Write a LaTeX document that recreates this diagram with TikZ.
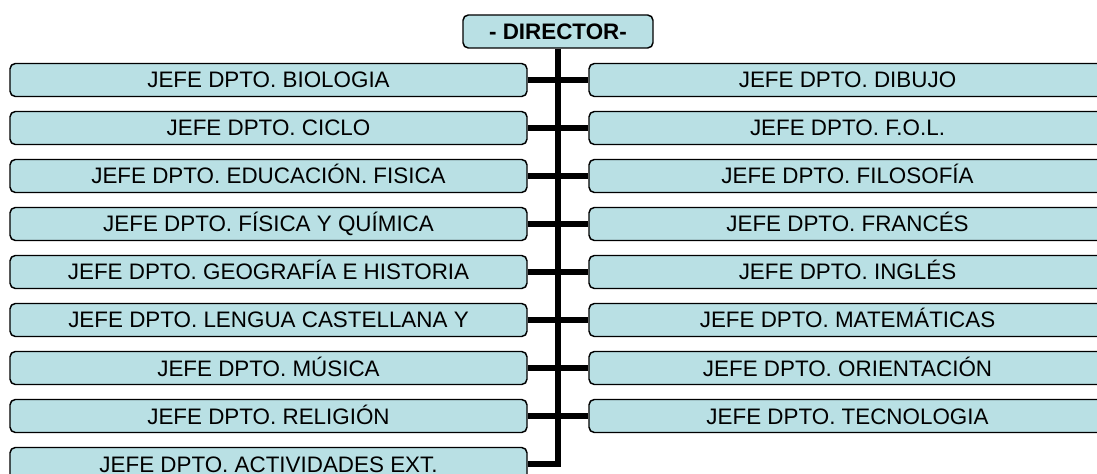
\documentclass[tikz,border=0pt]{standalone}
\usepackage{fontspec}
\setmainfont{Liberation Sans}
\definecolor{cajafondo}{RGB}{185,224,228}
\tikzset{
  cargo/.style={draw=black, line width=1.1pt, fill=cajafondo, rounded corners=4pt,
    minimum width=387.75pt, minimum height=24.75pt, inner sep=0pt,
    text height=12pt, text depth=0pt,
    font=\fontsize{16.8}{20}\selectfont},
  jefe/.style={cargo, minimum width=142.5pt, font=\fontsize{16.8}{20}\selectfont\bfseries},
  enlace/.style={draw=black, line width=4.3pt}
}
\begin{document}
\begin{tikzpicture}[x=0.75pt,y=-0.75pt]
                \useasboundingbox (0,0) rectangle (1097,474);
                \clip (0,0) rectangle (1097,474);

                % director
                \node[jefe] (director) at (558,31.5) {- DIRECTOR-};

                % columna izquierda
                \node[cargo] (izq1) at (268.5,80) {JEFE DPTO. BIOLOGIA};
                \node[cargo] (izq2) at (268.5,128) {JEFE DPTO. CICLO};
                \node[cargo] (izq3) at (268.5,176) {JEFE DPTO. EDUCACIÓN. FISICA};
                \node[cargo] (izq4) at (268.5,224) {JEFE DPTO. FÍSICA Y QUÍMICA};
                \node[cargo] (izq5) at (268.5,272) {JEFE DPTO. GEOGRAFÍA E HISTORIA};
                \node[cargo] (izq6) at (268.5,320) {JEFE DPTO. LENGUA CASTELLANA Y};
                \node[cargo] (izq7) at (268.5,368) {JEFE DPTO. MÚSICA};
                \node[cargo] (izq8) at (268.5,416) {JEFE DPTO. RELIGIÓN};
                \node[cargo] (izq9) at (268.5,464) {JEFE DPTO. ACTIVIDADES EXT.};

                % columna derecha
                \node[cargo] (der1) at (847.5,80) {JEFE DPTO. DIBUJO};
                \node[cargo] (der2) at (847.5,128) {JEFE DPTO. F.O.L.};
                \node[cargo] (der3) at (847.5,176) {JEFE DPTO. FILOSOFÍA};
                \node[cargo] (der4) at (847.5,224) {JEFE DPTO. FRANCÉS};
                \node[cargo] (der5) at (847.5,272) {JEFE DPTO. INGLÉS};
                \node[cargo] (der6) at (847.5,320) {JEFE DPTO. MATEMÁTICAS};
                \node[cargo] (der7) at (847.5,368) {JEFE DPTO. ORIENTACIÓN};
                \node[cargo] (der8) at (847.5,416) {JEFE DPTO. TECNOLOGIA};

                % enlaces
                \draw[enlace] (director.south) |- (izq9.east);
                \draw[enlace] (izq1.east) -- (der1.west);
                \draw[enlace] (izq2.east) -- (der2.west);
                \draw[enlace] (izq3.east) -- (der3.west);
                \draw[enlace] (izq4.east) -- (der4.west);
                \draw[enlace] (izq5.east) -- (der5.west);
                \draw[enlace] (izq6.east) -- (der6.west);
                \draw[enlace] (izq7.east) -- (der7.west);
                \draw[enlace] (izq8.east) -- (der8.west);
            \end{tikzpicture}
\end{document}
